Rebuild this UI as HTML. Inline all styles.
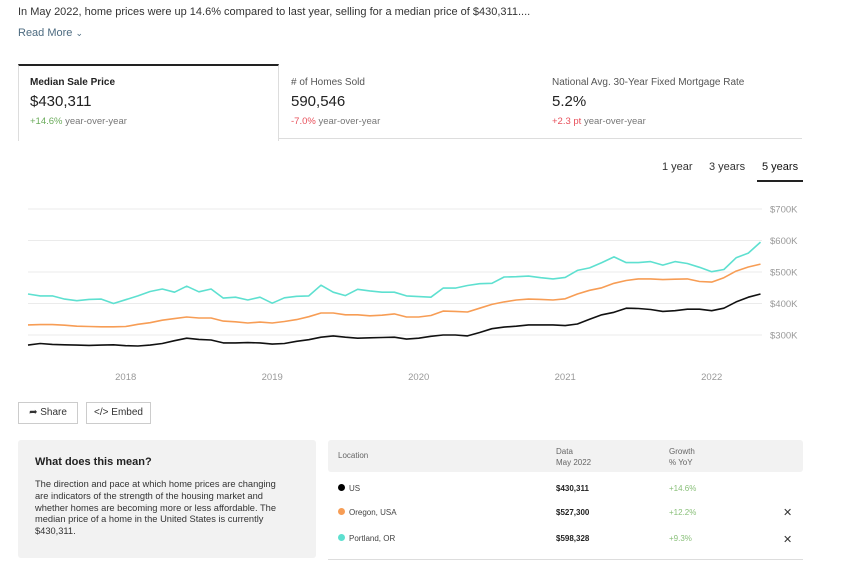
<!DOCTYPE html>
<html><head><meta charset="utf-8"><style>
body{margin:0;width:851px;height:567px;background:#fff;font-family:"Liberation Sans",sans-serif;color:#333;position:relative;overflow:hidden}
.a{position:absolute;white-space:nowrap}
</style></head><body>
<div class="a" style="left:18px;top:6px;font-size:11px;color:#333">In May 2022, home prices were up 14.6% compared to last year, selling for a median price of $430,311....</div>
<div class="a" style="left:18px;top:27px;font-size:11px;color:#4d6b80">Read More <span style="font-size:9px">&#8964;</span></div>

<div class="a" style="left:18px;top:64px;width:259px;height:75px;border:1px solid #ddd;border-top:2px solid #222;border-bottom:none;background:#fff"></div>
<div class="a" style="left:278px;top:138px;width:524px;height:1px;background:#ddd"></div>
<div class="a" style="left:30px;top:77px;font-size:10px;font-weight:bold;color:#222">Median Sale Price</div>
<div class="a" style="left:30px;top:93px;font-size:15px;color:#222">$430,311</div>
<div class="a" style="left:30px;top:116px;font-size:9.5px;color:#777"><span style="color:#6aab5a">+14.6%</span> year-over-year</div>

<div class="a" style="left:291px;top:77px;font-size:10px;color:#555">#&nbsp;of Homes Sold</div>
<div class="a" style="left:291px;top:93px;font-size:15px;color:#222">590,546</div>
<div class="a" style="left:291px;top:116px;font-size:9.5px;color:#777"><span style="color:#e8505b">-7.0%</span> year-over-year</div>

<div class="a" style="left:552px;top:77px;font-size:10px;color:#555">National Avg. 30-Year Fixed Mortgage Rate</div>
<div class="a" style="left:552px;top:93px;font-size:15px;color:#222">5.2%</div>
<div class="a" style="left:552px;top:116px;font-size:9.5px;color:#777"><span style="color:#e8505b">+2.3 pt</span> year-over-year</div>

<div class="a" style="left:662px;top:161px;font-size:11px;color:#333">1 year</div>
<div class="a" style="left:709px;top:161px;font-size:11px;color:#333">3 years</div>
<div class="a" style="left:762px;top:161px;font-size:11px;color:#111">5 years</div>
<div class="a" style="left:757px;top:180px;width:46px;height:2px;background:#222"></div>

<svg id="chart" class="a" style="left:0;top:190px" width="851" height="200"></svg>

<div class="a" style="left:18px;top:402px;width:58px;height:20px;border:1px solid #ccc;font-size:10px;line-height:20px;text-align:center;color:#333">&#10150; Share</div>
<div class="a" style="left:86px;top:402px;width:63px;height:20px;border:1px solid #ccc;font-size:10px;line-height:20px;text-align:center;color:#333">&lt;/&gt; Embed</div>

<div class="a" style="left:18px;top:440px;width:298px;height:118px;background:#f2f2f2;border-radius:3px"></div>
<div class="a" style="left:35px;top:456px;font-size:11px;font-weight:bold;color:#222">What does this mean?</div>
<div class="a" style="left:35px;top:479px;width:250px;white-space:normal;font-size:9.3px;line-height:11.8px;color:#333">The direction and pace at which home prices are changing are indicators of the strength of the housing market and whether homes are becoming more or less affordable. The median price of a home in the United States is currently $430,311.</div>

<div class="a" style="left:328px;top:440px;width:475px;height:32px;background:#f2f2f2;border-radius:3px"></div>
<div class="a" style="left:338px;top:451px;font-size:8px;color:#666">Location</div>
<div class="a" style="left:556px;top:446px;font-size:8px;color:#666;line-height:11px">Data<br>May 2022</div>
<div class="a" style="left:669px;top:446px;font-size:8px;color:#666;line-height:11px">Growth<br>% YoY</div>

<div class="a" style="left:338px;top:484px;font-size:8px;color:#444"><span style="display:inline-block;width:7px;height:7px;border-radius:50%;background:#000;margin-right:4px"></span>US</div>
<div class="a" style="left:556px;top:484px;font-size:8px;font-weight:bold;color:#222">$430,311</div>
<div class="a" style="left:669px;top:484px;font-size:8px;color:#8ac07a">+14.6%</div>

<div class="a" style="left:338px;top:508px;font-size:8px;color:#444"><span style="display:inline-block;width:7px;height:7px;border-radius:50%;background:#f79d55;margin-right:4px"></span>Oregon, USA</div>
<div class="a" style="left:556px;top:508px;font-size:8px;font-weight:bold;color:#222">$527,300</div>
<div class="a" style="left:669px;top:508px;font-size:8px;color:#8ac07a">+12.2%</div>
<div class="a" style="left:783px;top:506px;font-size:11px;color:#333">&#10005;</div>

<div class="a" style="left:338px;top:534px;font-size:8px;color:#444"><span style="display:inline-block;width:7px;height:7px;border-radius:50%;background:#5ee0d0;margin-right:4px"></span>Portland, OR</div>
<div class="a" style="left:556px;top:534px;font-size:8px;font-weight:bold;color:#222">$598,328</div>
<div class="a" style="left:669px;top:534px;font-size:8px;color:#8ac07a">+9.3%</div>
<div class="a" style="left:783px;top:533px;font-size:11px;color:#333">&#10005;</div>
<div class="a" style="left:328px;top:559px;width:475px;height:1px;background:#ddd"></div>

<script>
const yTicks=[300,400,500,600,700];
const yTickLabels=["$300K","$400K","$500K","$600K","$700K"];
const xYears=[2018,2019,2020,2021,2022];
const startYear=2017.333;
const usValues=[268,273,270,269,268,267,268,269,266,265,268,273,282,290,286,284,275,275,276,275,271,273,280,285,293,297,293,290,291,292,293,287,290,296,300,300,297,308,320,325,328,332,332,332,330,335,350,364,372,385,384,381,375,377,382,382,377,385,405,420,430];
const oregonValues=[332,333,333,331,328,327,326,326,327,334,339,347,352,357,354,354,344,342,338,341,338,343,349,358,370,370,364,364,361,363,367,357,357,362,376,375,373,385,397,405,411,414,413,411,415,430,442,450,464,473,478,478,476,477,478,470,468,482,503,516,525];
const portlandValues=[430,424,424,414,409,413,414,400,412,424,438,446,436,455,437,446,417,420,411,420,401,418,423,424,458,436,425,445,440,436,436,424,422,420,449,449,457,463,464,484,485,487,482,478,483,505,513,530,548,530,530,533,522,533,527,515,501,508,545,560,595];
const NS="http://www.w3.org/2000/svg";
const svg=document.getElementById('chart');
const X0=28,PXY=146.5,Y300=145,PX100=31.5;
function xm(i){return X0+(i/12)*PXY;}
function xy(yr){return X0+(yr-startYear)*PXY;}
function yv(v){return Y300-(v-300)/100*PX100;}
function mk(t,a){const e=document.createElementNS(NS,t);for(const k in a)e.setAttribute(k,a[k]);svg.appendChild(e);return e;}
yTicks.forEach((t,i)=>{
 const l=mk('line',{x1:28,x2:762,y1:yv(t),y2:yv(t),stroke:'#ebebeb','stroke-width':1});
 
 
 const tx=mk('text',{x:770,y:yv(t)+3.5,'font-size':9.5,fill:'#999','font-family':'Liberation Sans, sans-serif'});
 tx.textContent=yTickLabels[i];
 
 
});
xYears.forEach(yr=>{
 const tx=mk('text',{x:xy(yr),y:190,'font-size':9.5,fill:'#999','text-anchor':'middle','font-family':'Liberation Sans, sans-serif'});
 tx.textContent=yr;
 
 
});
function series(vals,color,name){
 let d='';vals.forEach((v,i)=>{d+=(i?'L':'M')+xm(i).toFixed(1)+','+yv(v).toFixed(1);});
 const p=mk('path',{d:d,fill:'none',stroke:color,'stroke-width':1.6,'stroke-linejoin':'round'});
 
 
}
series(portlandValues,'#5ee0d0','portland-line');
series(oregonValues,'#f79d55','oregon-line');
series(usValues,'#111','us-line');
</script>
</body></html>
